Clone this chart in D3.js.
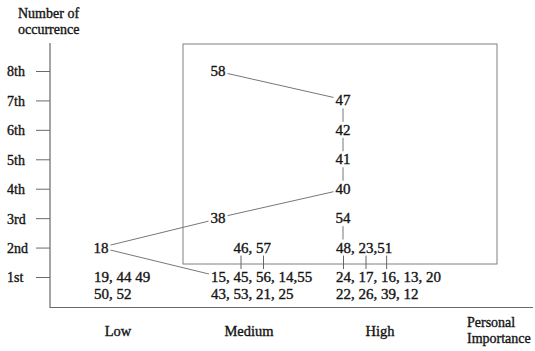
<!DOCTYPE html>
<html>
<head>
<meta charset="utf-8">
<script src="https://cdn.jsdelivr.net/npm/d3@7/dist/d3.min.js"></script>
<style>
  html, body { margin: 0; padding: 0; background: #fff; }
  svg { display: block; }
  text { font-family: "Liberation Serif", "Times New Roman", serif; fill: #141414; stroke: #141414; stroke-width: 0.35px; }
</style>
</head>
<body>
<svg id="chart" width="535" height="351"></svg>
<script>
// ---- data ----
const categories = ["Low", "Medium", "High"];
const rankValues = [1, 2, 3, 4, 5, 6, 7, 8];
const rankLabels = ["1st", "2nd", "3rd", "4th", "5th", "6th", "7th", "8th"];
const yTitle = ["Number of", "occurrence"];
const xTitle = ["Personal", "Importance"];

// single-number nodes: id, category, rank
const singleNodes = [
  { id: "18", category: "Low", rank: 2 },
  { id: "58", category: "Medium", rank: 8 },
  { id: "38", category: "Medium", rank: 3 },
  { id: "47", category: "High", rank: 7 },
  { id: "42", category: "High", rank: 6 },
  { id: "41", category: "High", rank: 5 },
  { id: "40", category: "High", rank: 4 },
  { id: "54", category: "High", rank: 3 }
];

// lists of numbers sharing a rank
const listNodes = [
  { id: "lowFirst", category: "Low", rank: 1, lines: ["19, 44 49", "50, 52"] },
  { id: "medFirst", category: "Medium", rank: 1, lines: ["15, 45, 56, 14,55", "43, 53, 21, 25"] },
  { id: "highFirst", category: "High", rank: 1, lines: ["24, 17, 16, 13, 20", "22, 26, 39, 12"] },
  { id: "medSecond", category: "Medium", rank: 2, lines: ["46, 57"], over: "medFirst", overTokens: ["45", "56"] },
  { id: "highSecond", category: "High", rank: 2, lines: ["48, 23,51"], over: "highFirst", overTokens: ["24", "17", "16"] }
];

const links = [
  ["18", "38"], ["18", "medFirst"], ["38", "40"], ["58", "47"],
  ["47", "42"], ["42", "41"], ["41", "40"], ["54", "highSecond"]
];

// ---- drawing ----
const svg = d3.select("#chart");
const numFont = 15;

const y = d3.scaleLinear().domain([1, 8]).range([277, 71]);
const xLabel = d3.scalePoint().domain(categories).range([118, 380]);
const xNode = d3.scaleOrdinal().domain(categories).range([101, 218, 343]);

// axes lines
const axisColor = "#4a4a4a";
svg.append("line").attr("x1", 50).attr("x2", 50).attr("y1", 43).attr("y2", 308)
  .attr("stroke", axisColor).attr("stroke-width", 1);
svg.append("line").attr("x1", 50).attr("x2", 533).attr("y1", 307.5).attr("y2", 307.5)
  .attr("stroke", "#6a6a6a").attr("stroke-width", 1);

// y axis ticks
const yAxis = d3.axisLeft(y).tickValues(rankValues)
  .tickFormat((d, i) => rankLabels[i]).tickSize(14).tickSizeOuter(0);
const gY = svg.append("g").attr("transform", "translate(50,0)").call(yAxis);
gY.select(".domain").remove();
gY.selectAll(".tick line").attr("stroke", "#6a6a6a");
gY.selectAll(".tick text")
  .attr("x", -43).attr("text-anchor", "start")
  .attr("font-size", 14).attr("font-family", null).attr("fill", "#141414")
  .attr("dy", "0.35em");

// titles
svg.append("g").selectAll("text").data(yTitle).join("text")
  .attr("x", 18).attr("y", (d, i) => 18 + i * 15.5)
  .attr("font-size", 14).text(d => d);
svg.append("g").selectAll("text").data(xTitle).join("text")
  .attr("x", 467).attr("y", (d, i) => 327 + i * 16)
  .attr("font-size", 14).text(d => d);

// category labels
svg.append("g").selectAll("text").data(categories).join("text")
  .attr("x", d => xLabel(d)).attr("y", 336)
  .attr("text-anchor", "middle").attr("font-size", 14.5).text(d => d);

// box
const boxLeft = xNode("Medium") - 35, boxRight = xNode("High") + 154;
const boxTop = y(8) - 27, boxBottom = y(1) - 13;
svg.append("rect")
  .attr("x", boxLeft).attr("y", boxTop)
  .attr("width", boxRight - boxLeft).attr("height", boxBottom - boxTop)
  .attr("fill", "none").attr("stroke", "#808080").attr("stroke-width", 1);

const nodeBoxes = {};
const gNodes = svg.append("g");

// single nodes
singleNodes.forEach(n => {
  const t = gNodes.append("text")
    .attr("x", xNode(n.category)).attr("y", y(n.rank))
    .attr("dy", "0.33em").attr("text-anchor", "middle")
    .attr("font-size", numFont).text(n.id);
  const b = t.node().getBBox();
  nodeBoxes[n.id] = { x0: b.x, x1: b.x + b.width, cx: xNode(n.category), cy: y(n.rank) };
});

// token positions helper
function tokensOf(textNode, str, x0) {
  const out = [];
  const re = /\d+/g;
  let m;
  while ((m = re.exec(str)) !== null) {
    const pre = m.index > 0 ? textNode.getSubStringLength(0, m.index) : 0;
    const w = textNode.getSubStringLength(m.index, m[0].length);
    out.push({ tok: m[0], x0: x0 + pre, cx: x0 + pre + w / 2 });
  }
  return out;
}

const tokenMap = {};
const lineGap = 17;
listNodes.forEach(n => {
  let startX = xNode(n.category) - 7;
  if (n.over) {
    const below = tokenMap[n.over];
    const target = below.find(t => t.tok === n.overTokens[0]);
    const probe = gNodes.append("text").attr("font-size", numFont).text(n.lines[0]);
    const tk = tokensOf(probe.node(), n.lines[0], 0);
    probe.remove();
    startX = target.cx - tk[0].cx;
  }
  n.lines.forEach((line, i) => {
    const t = gNodes.append("text")
      .attr("x", startX).attr("y", y(n.rank) + i * lineGap)
      .attr("dy", "0.33em").attr("text-anchor", "start")
      .attr("font-size", numFont).text(line);
    if (i === 0) {
      const b = t.node().getBBox();
      const toks = tokensOf(t.node(), line, startX);
      tokenMap[n.id] = toks;
      nodeBoxes[n.id] = { x0: b.x, x1: b.x + b.width, cx: toks[0].cx, cy: y(n.rank) };
    }
  });
  if (n.over) {
    const upper = tokenMap[n.id];
    const lower = tokenMap[n.over];
    n.overTokens.forEach((tk, i) => {
      const lt = lower.find(t => t.tok === tk);
      const xx = (upper[i].cx + lt.cx) / 2;
      svg.append("line")
        .attr("x1", xx).attr("x2", xx)
        .attr("y1", y(n.rank) + 8).attr("y2", y(1) - 8)
        .attr("stroke", "#666").attr("stroke-width", 1);
    });
  }
});

// links
const rankOf = {};
singleNodes.forEach(n => rankOf[n.id] = n);
listNodes.forEach(n => rankOf[n.id] = n);
links.forEach(([s, t]) => {
  const a = nodeBoxes[s], b = nodeBoxes[t];
  const sn = rankOf[s], tn = rankOf[t];
  let x1, y1, x2, y2;
  if (sn.category === tn.category) {
    x1 = x2 = a.cx;
    y1 = a.cy + 8; y2 = b.cy - 8;
  } else {
    const dir = Math.sign(b.cy - a.cy);
    x1 = a.x1 + 2; y1 = a.cy + dir * 2.5;
    x2 = b.x0 - 2; y2 = b.cy - dir * 3;
  }
  svg.append("line")
    .attr("x1", x1).attr("y1", y1).attr("x2", x2).attr("y2", y2)
    .attr("stroke", "#777").attr("stroke-width", 1);
});
</script>
</body>
</html>
